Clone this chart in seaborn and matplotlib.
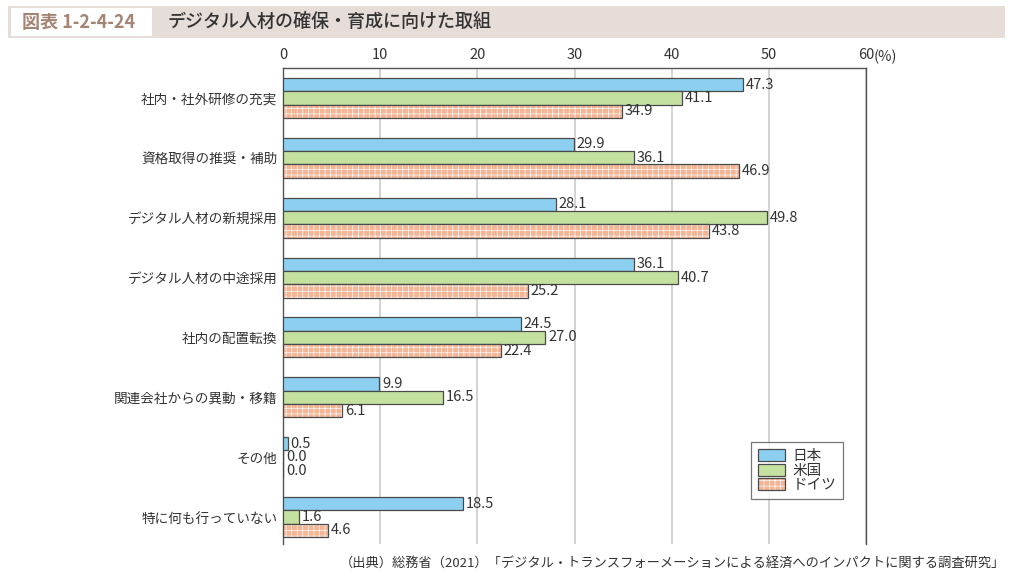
import matplotlib
matplotlib.use("Agg")
import matplotlib.pyplot as plt
import matplotlib.patches as mpatches
import pandas as pd
import seaborn as sns

categories = ["社内・社外研修の充実", "資格取得の推奨・補助", "デジタル人材の新規採用",
              "デジタル人材の中途採用", "社内の配置転換", "関連会社からの異動・移籍",
              "その他", "特に何も行っていない"]
japan = [47.3, 29.9, 28.1, 36.1, 24.5, 9.9, 0.5, 18.5]
usa = [41.1, 36.1, 49.8, 40.7, 27.0, 16.5, 0.0, 1.6]
germany = [34.9, 46.9, 43.8, 25.2, 22.4, 6.1, 0.0, 4.6]
series = ["日本", "米国", "ドイツ"]
xticks = [0, 10, 20, 30, 40, 50, 60]

colors = ["#8ccff0", "#c5e1a0", "#f2b596"]
edge = "#4a4a4a"
text_c = "#333333"

df = pd.DataFrame({
    "項目": categories * 3,
    "国": [s for s in series for _ in categories],
    "割合": japan + usa + germany,
})

sns.set_style("white")
plt.rcParams['font.family'] = ['Noto Sans CJK JP', 'DejaVu Sans']
plt.rcParams['hatch.linewidth'] = 0.45

fig = plt.figure(figsize=(10.15, 5.8), dpi=100)
ax = fig.add_axes([283 / 1015, 1 - 544 / 580, (866 - 283) / 1015, (544 - 68) / 580])

sns.barplot(data=df, y="項目", x="割合", hue="国", order=categories, hue_order=series,
            palette=colors, orient="h", width=0.67, gap=0, saturation=1,
            edgecolor=edge, linewidth=0.9, ax=ax, legend=False, zorder=3)

for cont, vals in zip(ax.containers, [japan, usa, germany]):
    ax.bar_label(cont, labels=[f"{v:.1f}" for v in vals], padding=2,
                 fontsize=10.5, color=text_c)
# white grid on the ドイツ bars, outline drawn again on top
for p in ax.containers[2].patches:
    p.set_hatch("+++")
    p.set_edgecolor("white")
    p.set_linewidth(0)
    ax.add_patch(mpatches.Rectangle(p.get_xy(), p.get_width(), p.get_height(),
                                    facecolor="none", edgecolor=edge, linewidth=0.9, zorder=4))

ax.set_xlim(0, 60)
ax.set_ylim(7.45, -0.5)
ax.set_xticks(xticks)
ax.xaxis.tick_top()
ax.tick_params(axis="x", length=0, labelsize=10.5, colors=text_c, pad=4)
ax.tick_params(axis="y", length=0, labelsize=9.8, colors=text_c, pad=4)
ax.set_xlabel("")
ax.set_ylabel("")
ax.grid(axis="x", color="#cccccc", linewidth=1.2, zorder=0)
ax.set_axisbelow(True)
for s in ["top", "left", "right"]:
    ax.spines[s].set_color("#555555")
    ax.spines[s].set_linewidth(1.0)
ax.spines["bottom"].set_visible(False)
ax.annotate("(%)", xy=(60, 1), xycoords=("data", "axes fraction"), xytext=(5.5, 3),
            textcoords="offset points", fontsize=10.5, color=text_c, va="bottom", ha="left",
            annotation_clip=False)

handles = [mpatches.Patch(facecolor=colors[0], edgecolor=edge, linewidth=0.9),
           mpatches.Patch(facecolor=colors[1], edgecolor=edge, linewidth=0.9),
           (mpatches.Patch(facecolor=colors[2], edgecolor="white", hatch="+++", linewidth=0),
            mpatches.Patch(facecolor="none", edgecolor=edge, linewidth=0.9))]
leg = ax.legend(handles, series, loc="upper left", bbox_to_anchor=(0.803, 0.214),
                frameon=True, fancybox=False, fontsize=10.5, handlelength=1.9, handleheight=0.9,
                labelspacing=0.05, borderpad=0.45, handletextpad=0.5, borderaxespad=0)
leg.get_frame().set_edgecolor("#555555")
leg.get_frame().set_linewidth(0.9)
for t in leg.get_texts():
    t.set_color(text_c)

# title band
fig.patches.append(mpatches.Rectangle((8 / 1015, 1 - 38 / 580), 997 / 1015, 32 / 580,
                                      transform=fig.transFigure, facecolor="#e6dcd8",
                                      edgecolor="none", zorder=0))
fig.patches.append(mpatches.Rectangle((11 / 1015, 1 - 36 / 580), 141 / 1015, 28 / 580,
                                      transform=fig.transFigure, facecolor="white",
                                      edgecolor="none", zorder=1))
fig.text(22 / 1015, 1 - 22 / 580, "図表 1-2-4-24", fontsize=13, fontweight="bold",
         color="#a48473", va="center", ha="left")
fig.text(168 / 1015, 1 - 22 / 580, "デジタル人材の確保・育成に向けた取組", fontsize=13,
         fontweight="medium", color="#333333", va="center", ha="left")

fig.text(1005 / 1015, 1 - 563 / 580,
         "（出典）総務省（2021）「デジタル・トランスフォーメーションによる経済へのインパクトに関する調査研究」",
         fontsize=9.5, color=text_c, va="center", ha="right")

plt.savefig("out.png", dpi=100)
